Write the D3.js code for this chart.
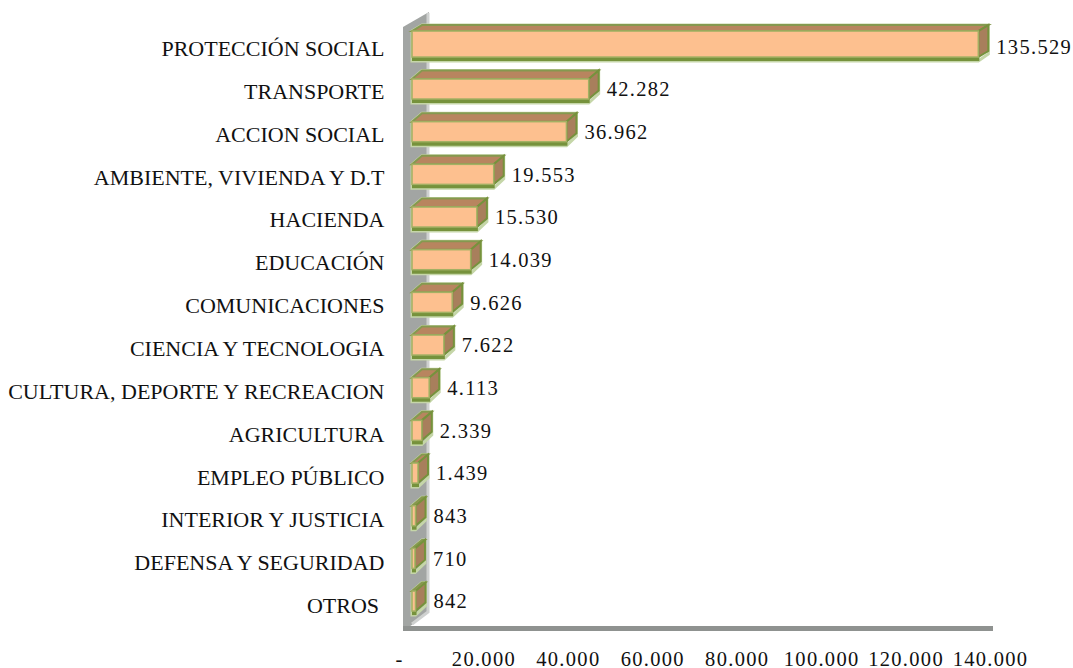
<!DOCTYPE html>
<html>
<head>
<meta charset="utf-8">
<script src="https://cdn.jsdelivr.net/npm/d3@7"></script>
<style>
html, body { margin: 0; background: #fff; }
text { font-family: "Liberation Serif", serif; fill: #111; white-space: pre; }
</style>
</head>
<body>
<div id="chart"></div>
<script>
var categories = ["PROTECCIÓN SOCIAL", "TRANSPORTE", "ACCION SOCIAL", "AMBIENTE, VIVIENDA Y D.T", "HACIENDA", "EDUCACIÓN", "COMUNICACIONES", "CIENCIA Y TECNOLOGIA", "CULTURA, DEPORTE Y RECREACION", "AGRICULTURA", "EMPLEO PÚBLICO", "INTERIOR Y JUSTICIA", "DEFENSA Y SEGURIDAD", "OTROS "];
var values = [135529, 42282, 36962, 19553, 15530, 14039, 9626, 7622, 4113, 2339, 1439, 843, 710, 842];
var valueLabels = ["135.529", "42.282", "36.962", "19.553", "15.530", "14.039", "9.626", "7.622", "4.113", "2.339", "1.439", "843", "710", "842"];
var tickValues = [0, 20000, 40000, 60000, 80000, 100000, 120000, 140000];
var tickLabels = ["-", "20.000", "40.000", "60.000", "80.000", "100.000", "120.000", "140.000"];

var width = 1073;
var height = 668;
var depthX = 10;
var fontSize = 22;
var numberSize = 20.5;

var svg = d3.select("#chart")
    .append("svg")
    .attr("width", width)
    .attr("height", height)
    .style("display", "block");

// X
var x = d3.scaleLinear()
    .domain([0, 140000])
    .range([412, 997]);

// Y
var y = d3.scaleBand()
    .domain(categories)
    .range([25, 622.4])
    .paddingInner(0.531)
    .paddingOuter(0.2655);

// the category labels run on a slightly wider step than the bars
var yLabel = y.copy().range([27, 626.8]);

// walls
var wall = svg.append("g");
wall.append("path")
    .attr("d", "M403,27 L429,12 V612 L409,627 H403 Z")
    .attr("fill", "#a2a5a3");
wall.append("path")
    .attr("d", "M428,13 V612 L412,624")
    .attr("fill", "none")
    .attr("stroke", "#cfd1d0")
    .attr("stroke-width", 3);
wall.append("rect")
    .attr("x", 403).attr("y", 626).attr("width", 590).attr("height", 5)
    .attr("fill", "#8f9290");

// bars
var bars = svg.append("g")
    .selectAll("g")
    .data(categories)
    .enter()
    .append("g");

bars.each(function (d, i) {
    var g = d3.select(this);
    var x0 = x(0);
    var x1 = x(values[i]);
    // the first bar is drawn thicker and flatter in the picture
    var y0 = y(d) - (i === 0 ? 5.3 : 0);
    var y1 = y(d) + y.bandwidth() + (i === 0 ? 0.7 : 0);
    var depthY = i === 0 ? 6 : 8.5;

    // glow
    g.append("path")
        .attr("d", `M${x0},${y0} L${x0 + depthX},${y0 - depthY} H${x1 + depthX} V${y1 - depthY + 3} L${x1},${y1 + 4} H${x0} Z`)
        .attr("fill", "none")
        .attr("stroke", "#c5d6a8")
        .attr("stroke-width", 3);
    // top
    g.append("path")
        .attr("d", `M${x0},${y0} L${x0 + depthX},${y0 - depthY} H${x1 + depthX} L${x1},${y0} Z`)
        .attr("fill", "#b8855f")
        .attr("stroke", "#85994f")
        .attr("stroke-width", 2);
    // side
    g.append("path")
        .attr("d", `M${x1},${y0} L${x1 + depthX},${y0 - depthY} V${y1 - depthY} L${x1},${y1} Z`)
        .attr("fill", "#a87f5c")
        .attr("stroke", "#76923c")
        .attr("stroke-width", 2);
    // bottom edge
    g.append("line")
        .attr("x1", x0).attr("x2", x1 + 1)
        .attr("y1", y1 + 2).attr("y2", y1 + 2)
        .attr("stroke", "#76923c")
        .attr("stroke-width", 4);
    // front
    g.append("rect")
        .attr("x", x0)
        .attr("y", y0)
        .attr("width", x1 - x0)
        .attr("height", y1 - y0)
        .attr("fill", "#fdc08f")
        .attr("stroke", "#a3b063")
        .attr("stroke-width", 1.5);

    g.append("text")
        .attr("x", x1 + depthX + 8)
        .attr("y", y(d) + y.bandwidth() / 2)
        .attr("dy", "0.35em")
        .attr("font-size", numberSize)
        .attr("letter-spacing", 1.3)
        .text(valueLabels[i]);
});

// category labels
svg.append("g")
    .selectAll("text")
    .data(categories)
    .enter()
    .append("text")
    .attr("x", 384.5)
    .attr("y", d => yLabel(d) + yLabel.bandwidth() / 2)
    .attr("dy", "0.35em")
    .attr("text-anchor", "end")
    .attr("font-size", fontSize)
    .text(d => d);

// bottom labels
var tickScale = x.copy().range([399, 990]);
var axis = svg.append("g")
    .attr("transform", "translate(0, 659)")
    .call(d3.axisBottom(tickScale)
        .tickValues(tickValues)
        .tickSize(0)
        .tickPadding(0)
        .tickFormat((d, i) => tickLabels[i]));
axis.select(".domain").remove();
axis.selectAll("text")
    .attr("y", 0)
    .attr("dy", "0.35em")
    .attr("font-size", numberSize)
    .attr("letter-spacing", 1.3);
</script>
</body>
</html>
